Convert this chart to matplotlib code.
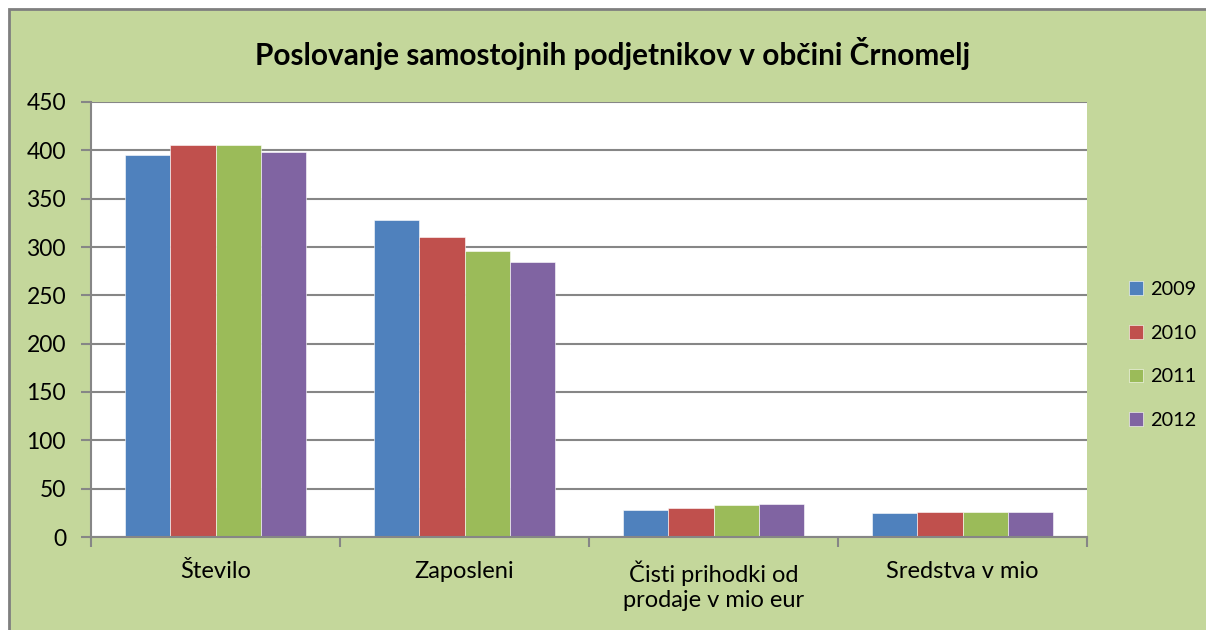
import matplotlib
matplotlib.use("Agg")
from matplotlib import pyplot as plt
from matplotlib.patches import Rectangle
import numpy as np

# data
categories = ["Število", "Zaposleni", "Čisti prihodki od\nprodaje v mio eur", "Sredstva v mio"]
years = ["2009", "2010", "2011", "2012"]
v2009 = [395, 328, 28, 24.5]
v2010 = [406, 310, 30, 25.5]
v2011 = [406, 296, 33, 25.5]
v2012 = [398, 284, 34, 26]
yticks = [0, 50, 100, 150, 200, 250, 300, 350, 400, 450]

colors = ["#4F81BD", "#C0504D", "#9BBB59", "#8064A2"]
bg = "#C4D79B"

plt.rcParams['font.family'] = ['Lato', 'DejaVu Sans']

fig = plt.figure(figsize=(12.06, 6.30), dpi=100)
fig.patch.set_facecolor("white")

# green chart area with grey border (cut off on the right and bottom)
fig.patches.append(Rectangle((8.5 / 1206, -0.05), 1.1, (630 - 9.5) / 630 + 0.05,
                             transform=fig.transFigure, facecolor=bg,
                             edgecolor="#7F7F7F", linewidth=2, zorder=-10))

ax = fig.add_axes([91 / 1206, 93 / 630, 996 / 1206, 435 / 630])
ax.set_zorder(1)
ax.set_facecolor("white")

x = np.arange(len(categories))
w = 1 / 5.5
series = [v2009, v2010, v2011, v2012]
for i, (vals, yr) in enumerate(zip(series, years)):
    ax.bar(x + (i - 1.5) * w, vals, width=w, color=colors[i], label=yr,
           edgecolor="white", linewidth=0.4, zorder=3)

ax.set_xlim(-0.5, len(categories) - 0.5)
ax.set_ylim(0, 450)
ax.set_yticks(yticks)
ax.yaxis.grid(True, color="#868686", linewidth=1.5, zorder=0)
ax.tick_params(axis="y", labelsize=16.5, length=7, width=1.5, color="#868686", pad=11)

ax.set_xticks(np.arange(len(categories) + 1) - 0.5)
ax.set_xticklabels([])
ax.tick_params(axis="x", which="major", length=7, width=1.5, color="#868686")
ax.set_xticks(x, minor=True)
ax.set_xticklabels(categories, minor=True, fontsize=17, linespacing=1.2)
ax.tick_params(axis="x", which="minor", length=0, pad=17)

for s in ["top", "right"]:
    ax.spines[s].set_visible(False)
for s in ["left", "bottom"]:
    ax.spines[s].set_color("#868686")
    ax.spines[s].set_linewidth(1.5)
    ax.spines[s].set_zorder(4)

fig.text(613 / 1206, 1 - 53 / 630, "Poslovanje samostojnih podjetnikov v občini Črnomelj",
         ha="center", va="center", fontsize=21.4, fontweight="bold")

leg = fig.legend(loc="center left", bbox_to_anchor=(1129 / 1206, 1 - 355 / 630),
                 frameon=False, fontsize=14.3, handlelength=0.7, handleheight=0.7,
                 handletextpad=0.35, labelspacing=1.35, borderpad=0, borderaxespad=0)

fig.savefig("out.png", dpi=100, facecolor=fig.get_facecolor())
